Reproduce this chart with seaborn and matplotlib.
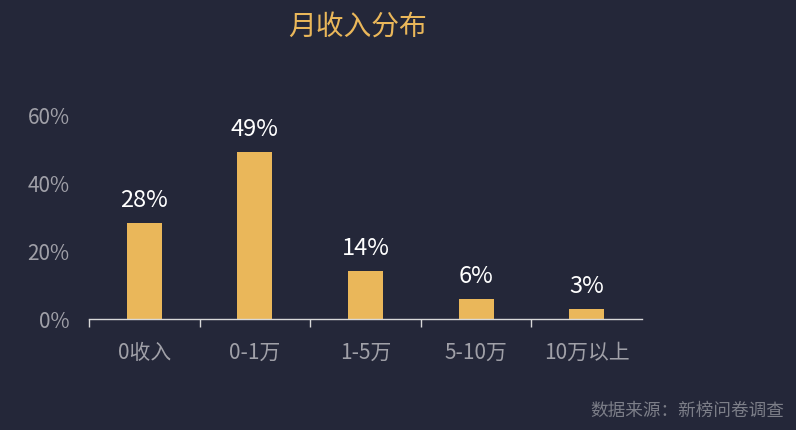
import matplotlib
matplotlib.use("Agg")
import pandas as pd
import seaborn as sns
import matplotlib.pyplot as plt
from matplotlib.ticker import FuncFormatter

# data
categories = ["0收入", "0-1万", "1-5万", "5-10万", "10万以上"]
shares = [28, 49, 14, 6, 3]
value_labels = ["28%", "49%", "14%", "6%", "3%"]
y_ticks = [0, 20, 40, 60]

bg = "#242739"
gold = "#eab75a"

sns.set_theme(style="white")
plt.rcParams["font.family"] = ["Noto Sans CJK SC", "DejaVu Sans"]

df = pd.DataFrame({"cat": categories, "share": shares})

fig = plt.figure(figsize=(7.96, 4.31), dpi=100, facecolor=bg)
ax = fig.add_axes([89 / 796, 1 - 320 / 431, (642 - 89) / 796, (320 - 115) / 431])
ax.set_facecolor(bg)

sns.barplot(data=df, x="cat", y="share", color=gold, width=0.316, saturation=1,
            linewidth=0, ax=ax)

for i, (v, lab) in enumerate(zip(shares, value_labels)):
    ax.text(i, v + 3.5, lab, ha="center", va="bottom", color="white", fontsize=17)

ax.set_ylim(0, 60)
ax.set_xlim(-0.5, 4.5)
ax.set_yticks(y_ticks)
ax.yaxis.set_major_formatter(FuncFormatter(lambda v, p: f"{v:.0f}%"))
# boundary tick marks (major) and category labels (minor)
ax.set_xticks([i - 0.5 for i in range(5)])
ax.set_xticklabels([])
ax.set_xticks(range(5), minor=True)
ax.set_xticklabels(categories, minor=True)
ax.tick_params(axis="x", which="major", bottom=True, length=6, width=1, color="#d8d8d8", direction="out")
ax.tick_params(axis="x", which="minor", bottom=True, length=0, pad=16, labelsize=15, labelcolor="#a0a0a8")
ax.tick_params(axis="y", length=0, pad=14, labelsize=15, labelcolor="#a0a0a8")
ax.set_xlabel("")
ax.set_ylabel("")
for s in ["top", "right", "left"]:
    ax.spines[s].set_visible(False)
ax.spines["bottom"].set_color("#d8d8d8")
ax.spines["bottom"].set_linewidth(1)

fig.text(358 / 796, 1 - 27 / 431, "月收入分布", ha="center", va="center", color=gold, fontsize=20)
fig.text(784 / 796, 1 - 411 / 431, "数据来源：新榜问卷调查", ha="right", va="center", color="#7c7e88", fontsize=12.7)

fig.savefig("out.png", dpi=100, facecolor=bg)
